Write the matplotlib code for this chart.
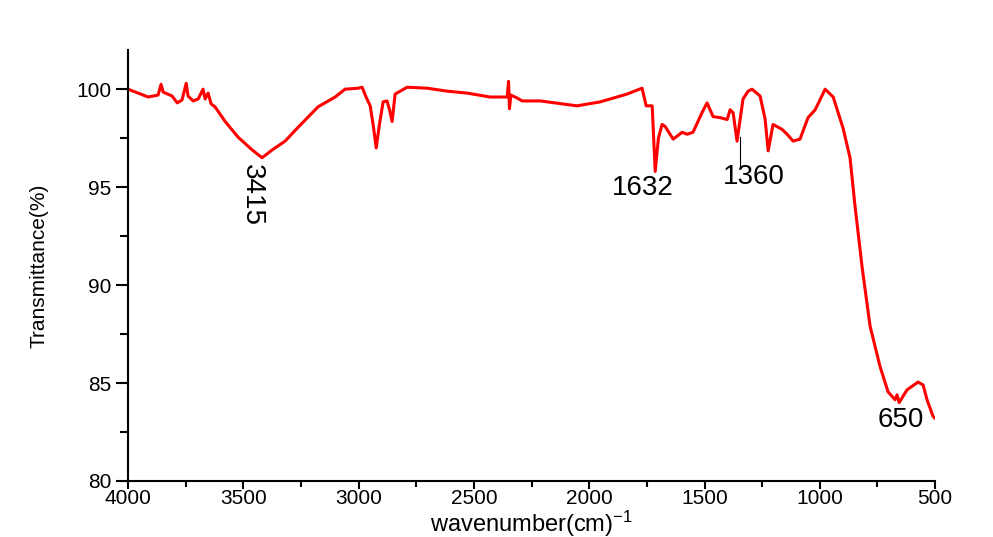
import matplotlib
matplotlib.use("Agg")
import matplotlib.pyplot as plt
from matplotlib.ticker import MultipleLocator

plt.rcParams['font.family'] = ['Liberation Sans', 'DejaVu Sans']
plt.rcParams['mathtext.default'] = 'regular'

# FTIR spectrum
wavenumber = [4000, 3913, 3870, 3857, 3848, 3809, 3787, 3766, 3748, 3740, 3718, 3696,
              3675, 3666, 3653, 3640, 3623, 3579, 3523, 3462, 3419, 3375, 3319, 3263,
              3176, 3102, 3059, 3003, 2985, 2968, 2950, 2935, 2924, 2910, 2894, 2877,
              2865, 2855, 2842, 2790, 2703, 2617, 2530, 2430, 2356, 2350, 2346, 2340,
              2313, 2291, 2213, 2053, 1953, 1836, 1771, 1753, 1727, 1714, 1700, 1684,
              1671, 1636, 1597, 1576, 1550, 1511, 1489, 1463, 1433, 1402, 1389, 1376,
              1359, 1333, 1311, 1294, 1259, 1237, 1224, 1203, 1164, 1142, 1116, 1086,
              1051, 1020, 977, 942, 899, 869, 847, 817, 782, 739, 704, 674, 665, 656,
              622, 574, 552, 535, 509, 500]
transmittance = [100.0, 99.6, 99.7, 100.25, 99.85, 99.65, 99.3, 99.45, 100.3, 99.65, 99.4, 99.5,
                 100.0, 99.5, 99.8, 99.25, 99.1, 98.35, 97.55, 96.9, 96.5, 96.9, 97.35, 98.05,
                 99.1, 99.6, 100.0, 100.05, 100.1, 99.6, 99.15, 98.0, 97.0, 98.2, 99.35, 99.4,
                 98.9, 98.35, 99.75, 100.1, 100.05, 99.9, 99.8, 99.6, 99.6, 100.4, 99.0, 99.7,
                 99.55, 99.4, 99.4, 99.15, 99.35, 99.75, 100.05, 99.15, 99.15, 95.8, 97.5, 98.2,
                 98.1, 97.45, 97.8, 97.7, 97.8, 98.8, 99.3, 98.6, 98.55, 98.45, 98.95, 98.8,
                 97.35, 99.5, 99.9, 100.0, 99.65, 98.45, 96.85, 98.2, 97.95, 97.7, 97.35, 97.45,
                 98.55, 98.95, 100.0, 99.6, 98.0, 96.5, 94.0, 90.95, 87.9, 85.85, 84.55, 84.15,
                 84.4, 84.0, 84.65, 85.05, 84.9, 84.15, 83.3, 83.2]

# peak labels: text, x, y
peak_labels = ["3415", "1632", "1360", "650"]
peak_x = [3462, 1766, 1285, 647]
peak_y = [94.6, 94.94, 95.5, 83.1]

fig = plt.figure(figsize=(9.93, 5.37), dpi=100)
ax = fig.add_axes([0.129, 0.1043, 0.8127, 0.8026])

ax.plot(wavenumber, transmittance, color='#ff0000', lw=2.2)

ax.set_xlim(4000, 500)
ax.set_ylim(80, 102)
ax.xaxis.set_major_locator(MultipleLocator(500))
ax.xaxis.set_minor_locator(MultipleLocator(250))
ax.yaxis.set_major_locator(MultipleLocator(5))
ax.yaxis.set_minor_locator(MultipleLocator(2.5))

for s in ['top', 'right']:
    ax.spines[s].set_visible(False)
for s in ['left', 'bottom']:
    ax.spines[s].set_linewidth(1.5)

ax.tick_params(axis='x', which='major', direction='out', length=6, width=1.5, labelsize=15, pad=0)
ax.tick_params(axis='x', which='minor', direction='out', length=4, width=1.5)
ax.tick_params(axis='y', which='major', direction='out', length=9, width=1.5, labelsize=15, pad=3)
ax.tick_params(axis='y', which='minor', direction='out', length=6, width=1.5)

ax.set_xlabel("wavenumber(cm)$^{-1}$", fontsize=17, labelpad=0)
ax.set_ylabel("Transmittance(%)", fontsize=15, labelpad=20)

for lab, x, y in zip(peak_labels, peak_x, peak_y):
    rot = 270 if lab == "3415" else 0
    ax.text(x, y, lab, fontsize=20, rotation=rot, ha='center', va='center')

# leader line for the 1360 peak
ax.plot([1346, 1346], [97.55, 96.0], color='black', lw=0.8)

fig.savefig("out.png", dpi=100)
